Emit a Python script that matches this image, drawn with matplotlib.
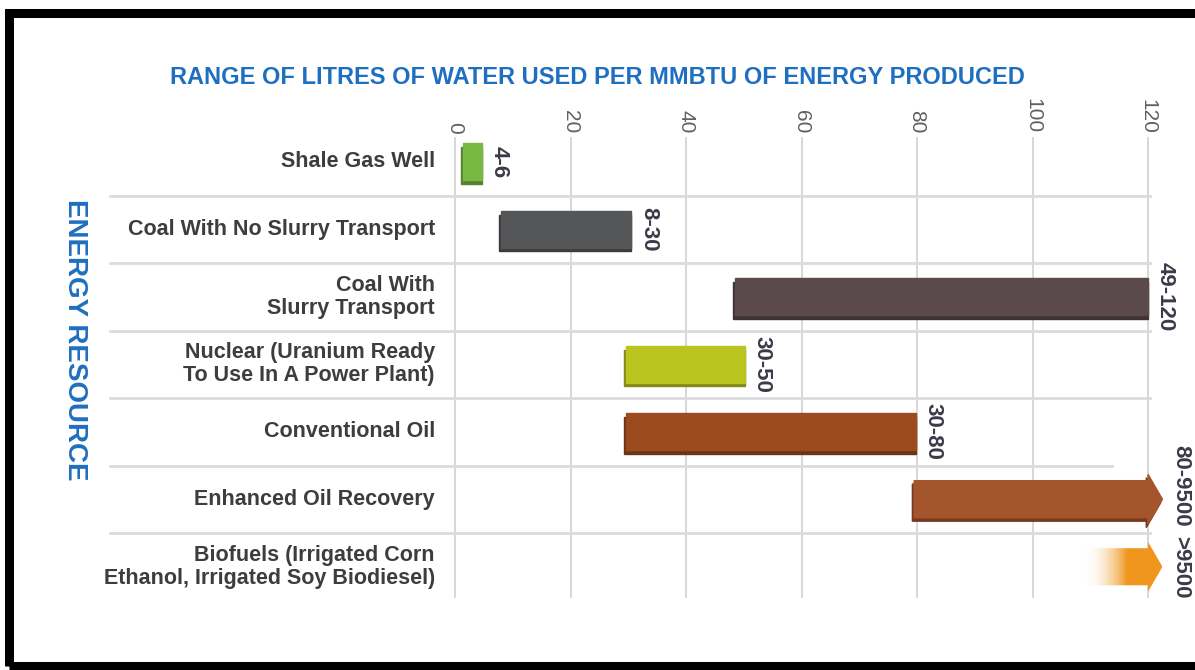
import numpy as np
import matplotlib
matplotlib.use("Agg")
import matplotlib.pyplot as plt
from matplotlib.patches import Polygon, Rectangle
from matplotlib.colors import LinearSegmentedColormap, to_rgb

# data
categories = [
    "Shale Gas Well",
    "Coal With No Slurry Transport",
    "Coal With\nSlurry Transport",
    "Nuclear (Uranium Ready\nTo Use In A Power Plant)",
    "Conventional Oil",
    "Enhanced Oil Recovery",
    "Biofuels (Irrigated Corn\nEthanol, Irrigated Soy Biodiesel)",
]
bar_start = [1.4, 8, 48.5, 29.6, 29.6, 79.5, 109]
bar_end = [4.6, 30.5, 120, 50.2, 79.8, 120, 120]
range_labels = ["4-6", "8-30", "49-120", "30-50", "30-80", "80-9500", ">9500"]
is_arrow = [False, False, False, False, False, True, True]
bar_colors = ["#7ab844", "#555657", "#5a4a4c", "#b9c41f", "#9c4b20", "#a5552b", "#f0961e"]
x_ticks = [0, 20, 40, 60, 80, 100, 120]

TITLE = "RANGE OF LITRES OF WATER USED PER MMBTU OF ENERGY PRODUCED"
YLABEL = "ENERGY RESOURCE"

plt.rcParams['font.family'] = 'Liberation Sans'

BLUE = "#1f6fc0"
TEXT = "#3d3d3d"
GRID = "#d4d4d4"

W, H = 1195, 670
fig = plt.figure(figsize=(W / 100, H / 100), dpi=100)
fig.patch.set_facecolor("white")

# axes: x=0 at px 455, 120 at px 1148 ; rows from px 128 to 600.5
px_per_unit = (1148 - 455) / 120
x_left = 455
ax = fig.add_axes([x_left / W, 1 - 600.5 / H, 1 - x_left / W, (600.5 - 128) / H])
ax.set_xlim(0, (W - x_left) / px_per_unit)
ax.set_ylim(6.5, -0.5)
ax.axis("off")

n = len(categories)
rows = np.arange(n)

# grid + top tick labels
for v in x_ticks:
    ax.plot([v, v], [-0.35, 6.45], color=GRID, lw=1.3, zorder=1, clip_on=False)
    ax.text(v, -0.42, str(v), rotation=-90, ha="center", va="bottom",
            fontsize=15, color="#606060", clip_on=False)

# row separators (the one above EOR stops a bit short in the original)
sep_left = (110 - x_left) / px_per_unit
sep_right = [120.3, 120.3, 120.3, 120.3, 113.8, 120.3]
for y, xr in zip(rows[:-1] + 0.5, sep_right):
    ax.plot([sep_left, xr], [y, y], color="#dcdcdc", lw=2, zorder=1, clip_on=False)

# category labels
for i, lab in enumerate(categories):
    ax.text(-3.5, i, lab, ha="right", va="center", fontsize=15.5, fontweight="bold",
            color=TEXT, linespacing=1.1, clip_on=False)

bh = 0.55
head_len = 2.5
head_half = 0.37


def darker(c, f=0.7):
    r, g, b = to_rgb(c)
    return (r * f, g * f, b * f)


for i in range(n):
    s, e, c = bar_start[i], bar_end[i], bar_colors[i]
    top, bot = i - bh / 2, i + bh / 2
    if not is_arrow[i]:
        # shadow for the 3d look
        ax.add_patch(Polygon([[s - 0.3, top + 0.06], [e, top + 0.06], [e, bot + 0.05],
                              [s - 0.3, bot + 0.05]], closed=True, color=darker(c), zorder=2))
        ax.add_patch(Rectangle((s, top), e - s, bh, color=c, zorder=3))
        ax.text(e + 1.2, i, range_labels[i], rotation=-90, ha="left", va="center",
                fontsize=16, fontweight="bold", color="#3a3a48", clip_on=False)
    else:
        pts = [[s, top], [e, top], [e, i - head_half], [e + head_len, i],
               [e, i + head_half], [e, bot], [s, bot]]
        shadow = [[p[0] - 0.3, p[1] + 0.05] for p in pts]
        if i == 5:
            ax.add_patch(Polygon(shadow, closed=True, color=darker(c), zorder=2, clip_on=False))
            ax.add_patch(Polygon(pts, closed=True, color=c, zorder=3, clip_on=False))
            ly = i - 0.2
        else:
            # fading arrow for biofuels
            poly = Polygon(pts, closed=True, facecolor="none", edgecolor="none", clip_on=False)
            ax.add_patch(poly)
            cmap = LinearSegmentedColormap.from_list(
                "fade", [(1, 1, 1, 0), to_rgb(c) + (1,)])
            grad = np.clip((np.linspace(s, e + head_len, 200) - s) / 7.5, 0, 1)[None, :]
            im = ax.imshow(grad, cmap=cmap, aspect="auto", vmin=0, vmax=1,
                           extent=[s, e + head_len, i + head_half, i - head_half], zorder=3)
            im.set_clip_path(poly)
            ly = i
        ax.text(e + head_len + 1.4, ly, range_labels[i], rotation=-90, ha="left", va="center",
                fontsize=16, fontweight="bold", color="#3a3a48", clip_on=False)

ax.set_xlim(0, (W - x_left) / px_per_unit)
ax.set_ylim(6.5, -0.5)

fig.text(0.5, 1 - 77 / H, TITLE, ha="center", va="center", fontsize=17,
         fontweight="bold", color=BLUE)
fig.text(75 / W, 1 - 340 / H, YLABEL, rotation=-90, ha="center", va="center",
         fontsize=20, fontweight="bold", color=BLUE)

# black frame
fig.patches.append(Rectangle((9 / W, 4 / H), (1198 - 9) / W, (657.5 - 4) / H,
                             transform=fig.transFigure, fill=False, edgecolor="black",
                             lw=6.5, zorder=10))

fig.savefig("out.png", dpi=100)
